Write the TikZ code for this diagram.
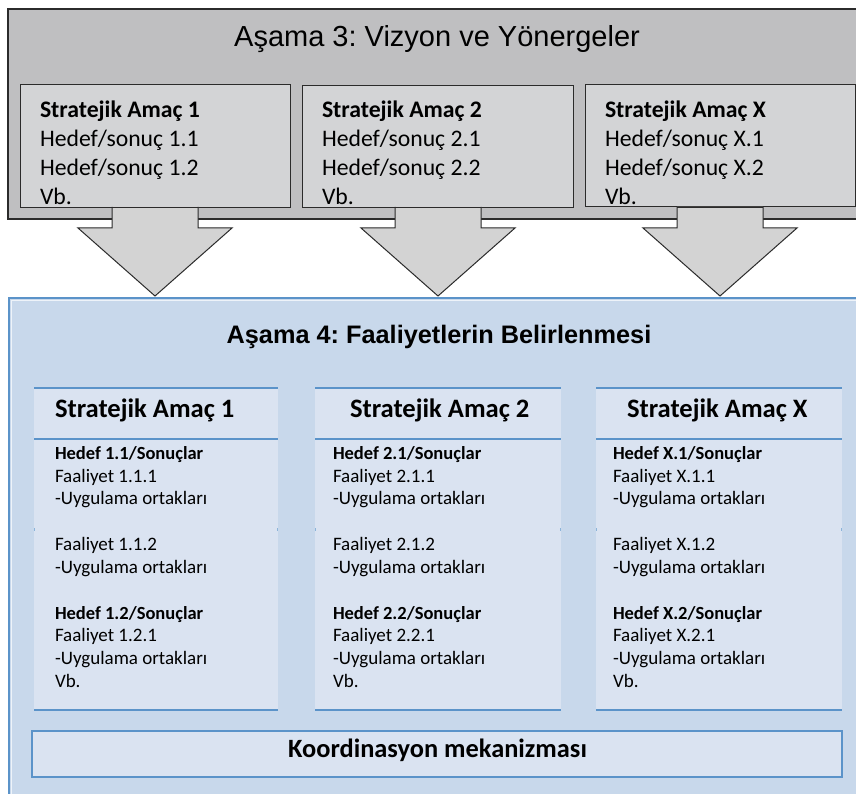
\documentclass[tikz,border=0pt]{standalone}
\usepackage{fontspec}
\setmainfont{Carlito}
\newfontfamily\arialf{Liberation Sans}
\frenchspacing
\definecolor{outergray}{HTML}{BFBFC1}
\definecolor{innergray}{HTML}{D3D4D6}
\definecolor{arrowgray}{HTML}{D3D3D3}
\definecolor{darkline}{HTML}{2B2B2B}
\definecolor{bluefill}{HTML}{C8D8EB}
\definecolor{boxfill}{HTML}{DAE3F1}
\definecolor{blueline}{HTML}{5B93C9}
\begin{document}
\begin{tikzpicture}[x=1pt,y=-1pt,
  txt/.style={anchor=base west, inner sep=0pt, outer sep=0pt},
  ctxt/.style={anchor=base, inner sep=0pt, outer sep=0pt},
  toptitle/.style={ctxt, font=\arialf\fontsize{29}{34}\selectfont},
  lowtitle/.style={ctxt, font=\arialf\bfseries\fontsize{25.3}{30}\selectfont},
  upper/.style={txt, font=\fontsize{23.7}{28}\selectfont},
  upperb/.style={txt, font=\bfseries\fontsize{23.7}{28}\selectfont},
  head/.style={txt, font=\bfseries\fontsize{26.6}{31}\selectfont},
  body/.style={txt, font=\fontsize{19}{22}\selectfont},
  bodyb/.style={txt, font=\bfseries\fontsize{18.5}{22}\selectfont},
  koord/.style={ctxt, font=\bfseries\fontsize{26.4}{31}\selectfont},
  innerbox/.style={fill=innergray, draw=darkline, line width=1pt},
  blockarrow/.style={fill=arrowgray},
  arrowedge/.style={draw=darkline, line width=1pt},
  bline/.style={draw=blueline, line width=1.6pt},
]
\useasboundingbox (0,0) rectangle (856,794);
\fill[white] (0,0) rectangle (856,794);

% Stage 3 outer box
\fill[outergray] (8,9) rectangle (856,219);
\draw[darkline, line width=1.8pt] (857,9) -- (8,9) -- (8,219) -- (857,219);

% inner boxes
\draw[innerbox] (20,85) rectangle (290,208);
\draw[innerbox] (302,86) rectangle (573,208);
\draw[innerbox] (585,85) rectangle (855,207);

\node[toptitle] (t3) at (437,47) {Aşama 3: Vizyon ve Yönergeler};

\node[upperb] (a1) at (40,118) {Stratejik Amaç 1};
\node[upper] (a1a) at (40,147) {Hedef/sonuç 1.1};
\node[upper] (a1b) at (40,176) {Hedef/sonuç 1.2};
\node[upper] (a1c) at (40,205) {Vb.};

\node[upperb] (a2) at (322,118) {Stratejik Amaç 2};
\node[upper] (a2a) at (322,147) {Hedef/sonuç 2.1};
\node[upper] (a2b) at (322,176) {Hedef/sonuç 2.2};
\node[upper] (a2c) at (322,205) {Vb.};

\node[upperb] (a3) at (605,118) {Stratejik Amaç X};
\node[upper] (a3a) at (605,147) {Hedef/sonuç X.1};
\node[upper] (a3b) at (605,176) {Hedef/sonuç X.2};
\node[upper] (a3c) at (605,205) {Vb.};

% block arrows
\foreach \c/\nm in {155/ar1, 438/ar2, 720/ar3} {
  \fill[blockarrow] (\c-43,207) -- (\c-43,228) -- (\c-77,228) -- (\c,296) -- (\c+77,228) -- (\c+43,228) -- (\c+43,207) -- cycle;
  \draw[arrowedge, line join=miter] (\c-43,207) -- (\c-43,228) -- (\c-77,228) -- (\c,296) -- (\c+77,228) -- (\c+43,228) -- (\c+43,207);
  \draw[darkline, line width=1pt] (\c-43,207.5) -- (\c+43,207.5);
}

% Stage 4 region
\fill[bluefill] (9,298) rectangle (856,794);
\draw[blueline, line width=2.6pt] (857,298) -- (9,298) -- (9,795);
\draw[white!70!bluefill, line width=0.8pt] (857,300.6) -- (11.5,300.6) -- (11.5,795);

\node[lowtitle] (t4) at (439,343) {Aşama 4: Faaliyetlerin Belirlenmesi};

% lower boxes
\foreach \xl/\xr in {34/278, 315/561, 596/842} {
  \fill[boxfill] (\xl,388) rectangle (\xr,710);
  \draw[bline] (\xl,388) -- (\xr,388);
  \draw[bline] (\xl,439) -- (\xr,439);
  \draw[bline, line width=2pt] (\xl,710) -- (\xr,710);
  \draw[blueline!70, line width=1.2pt] (\xl+0.6,528) -- (\xl+0.6,531);
  \draw[blueline!70, line width=1.2pt] (\xr-0.6,528) -- (\xr-0.6,531);
}

\node[head] (h1) at (55,417) {Stratejik Amaç 1};
\node[head] (h2) at (350,417) {Stratejik Amaç 2};
\node[head] (h3) at (627,417) {Stratejik Amaç X};

\foreach \k/\x in {1/55, 2/333, X/613} {
  \node[bodyb] (g\k a) at (\x,459) {Hedef \k.1/Sonuçlar};
  \node[body] (f\k a) at (\x,482) {Faaliyet \k.1.1};
  \node[body] (u\k a) at (\x,504.6) {-Uygulama ortakları};
  \node[body] (f\k b) at (\x,550) {Faaliyet \k.1.2};
  \node[body] (u\k b) at (\x,573) {-Uygulama ortakları};
  \node[bodyb] (g\k b) at (\x,619) {Hedef \k.2/Sonuçlar};
  \node[body] (f\k c) at (\x,641.5) {Faaliyet \k.2.1};
  \node[body] (u\k c) at (\x,664) {-Uygulama ortakları};
  \node[body] (v\k) at (\x,687) {Vb.};
}

% coordination box
\draw[fill=boxfill, draw=blueline, line width=2.2pt] (32,731) rectangle (842,777);
\node[koord] (k) at (437.5,757) {Koordinasyon mekanizması};
\end{tikzpicture}
\end{document}
